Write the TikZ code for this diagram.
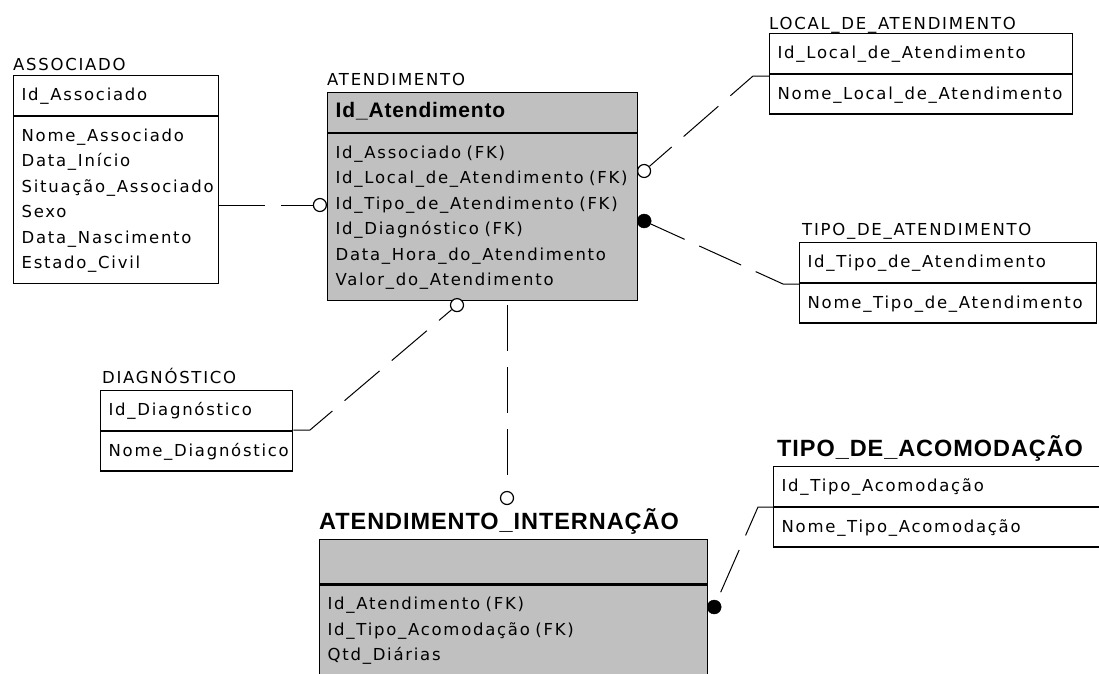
\documentclass[tikz,border=0pt]{standalone}
\usepackage{fontspec}
\usetikzlibrary{positioning}
\newfontfamily\erfont[LetterSpace=10.5]{DejaVu Sans}
\newfontfamily\titfont[LetterSpace=4]{Liberation Sans}
\definecolor{entgray}{RGB}{192,192,192}

\tikzset{%
  ent/.style={draw, line width=1.3pt, anchor=north west, inner xsep=8pt, inner ysep=7pt, align=left, font={\erfont\fontsize{16.5}{25.5}\selectfont}, execute at begin node=\strut, execute at end node=\strut},
  dep/.style={ent, fill=entgray},
  etiq/.style={font={\erfont\fontsize{16.5}{25.5}\selectfont}, inner sep=0pt},
  titulo/.style={font={\titfont\bfseries\fontsize{23.5}{28}\selectfont}, inner sep=0pt},
  rel/.style={draw, line width=1pt, dash pattern=on 46pt off 16pt},
  opc/.style={draw, circle, fill=white, line width=1.2pt, minimum size=13pt, inner sep=0pt},
  obr/.style={draw, circle, fill=black, minimum size=14pt, inner sep=0pt},
}

\begin{document}
\begin{tikzpicture}[x=1pt, y=-1pt]
\clip (0,0) rectangle (1099,673);
\fill[white] (0,0) rectangle (1099,673);

% ASSOCIADO
\node[ent, text width=189pt] (assocK) at (13,75) {Id\_Associado};
\node[ent, text width=189pt, below=0pt of assocK.south west, anchor=north west] (assocA) {Nome\_Associado\\Data\_Início\\Situação\_Associado\\Sexo\\Data\_Nascimento\\Estado\_Civil};
\node[etiq, above=5pt of assocK.north west, anchor=base west] (assocT) {ASSOCIADO};

% ATENDIMENTO
\node[dep, text width=294pt] (atK) at (327,92) {{\titfont\bfseries\fontsize{21}{25.5}\selectfont Id\_Atendimento}};
\node[dep, text width=294pt, below=0pt of atK.south west, anchor=north west] (atA) {Id\_Associado (FK)\\Id\_Local\_de\_Atendimento (FK)\\Id\_Tipo\_de\_Atendimento (FK)\\Id\_Diagnóstico (FK)\\Data\_Hora\_do\_Atendimento\\Valor\_do\_Atendimento};
\node[etiq, above=7pt of atK.north west, anchor=base west] (atT) {ATENDIMENTO};

% LOCAL_DE_ATENDIMENTO
\node[ent, text width=287pt] (locK) at (769,33) {Id\_Local\_de\_Atendimento};
\node[ent, text width=287pt, below=0pt of locK.south west, anchor=north west] (locA) {Nome\_Local\_de\_Atendimento};
\node[etiq, above=4pt of locK.north west, anchor=base west] (locT) {LOCAL\_DE\_ATENDIMENTO};

% TIPO_DE_ATENDIMENTO
\node[ent, text width=281pt] (tipoK) at (799,242) {Id\_Tipo\_de\_Atendimento};
\node[ent, text width=281pt, below=0pt of tipoK.south west, anchor=north west] (tipoA) {Nome\_Tipo\_de\_Atendimento};
\node[etiq, above=7pt of tipoK.north west, anchor=base west, xshift=3pt] (tipoT) {TIPO\_DE\_ATENDIMENTO};

% DIAGNOSTICO
\node[ent, text width=176pt] (diagK) at (100,390) {Id\_Diagnóstico};
\node[ent, text width=176pt, below=0pt of diagK.south west, anchor=north west] (diagA) {Nome\_Diagnóstico};
\node[etiq, above=7pt of diagK.north west, anchor=base west, xshift=2pt] (diagT) {DIAGNÓSTICO};

% ATENDIMENTO_INTERNACAO
\node[dep, text width=372pt, minimum height=44pt] (intK) at (319,539) {};
\node[dep, text width=372pt, below=0pt of intK.south west, anchor=north west] (intA) {Id\_Atendimento (FK)\\Id\_Tipo\_Acomodação (FK)\\Qtd\_Diárias\\};
\node[titulo, above=10pt of intK.north west, anchor=base west] (intT) {ATENDIMENTO\_INTERNAÇÃO};

% TIPO_DE_ACOMODACAO
\node[ent, text width=324pt] (acomK) at (773,466) {Id\_Tipo\_Acomodação};
\node[ent, text width=324pt, below=0pt of acomK.south west, anchor=north west] (acomA) {Nome\_Tipo\_Acomodação};
\node[titulo, above=10pt of acomK.north west, anchor=base west, xshift=4pt] (acomT) {TIPO\_DE\_ACOMODAÇÃO};

% cardinalidades
\node[opc, anchor=east] (oAssoc) at (327,205) {};
\node[opc, anchor=west] (oLocal) at (637,171) {};
\node[obr, anchor=west] (fTipo) at (637,221) {};
\node[opc, anchor=north] (oDiag) at (457,298) {};
\node[opc] (oInt) at (507,498) {};
\node[obr, anchor=west] (fAcom) at (707,607) {};

\coordinate (bLoc) at (753,76);
\coordinate (bTipo) at (783,284);
\coordinate (bDiag) at (310,430);
\coordinate (bAcom) at (758,507);

% relacionamentos
\draw[rel] (assocA.east |- oAssoc) -- (oAssoc);
\draw[rel] (locK.west |- bLoc) -- (bLoc) -- (oLocal);
\draw[rel] (tipoK.west |- bTipo) -- (bTipo) -- (fTipo);
\draw[rel] (diagK.east |- bDiag) -- (bDiag) -- (oDiag);
\draw[rel, dash phase=46pt] (oInt) -- (oInt |- atA.south);
\draw[rel] (acomK.west |- bAcom) -- (bAcom) -- (fAcom);
\end{tikzpicture}
\end{document}
